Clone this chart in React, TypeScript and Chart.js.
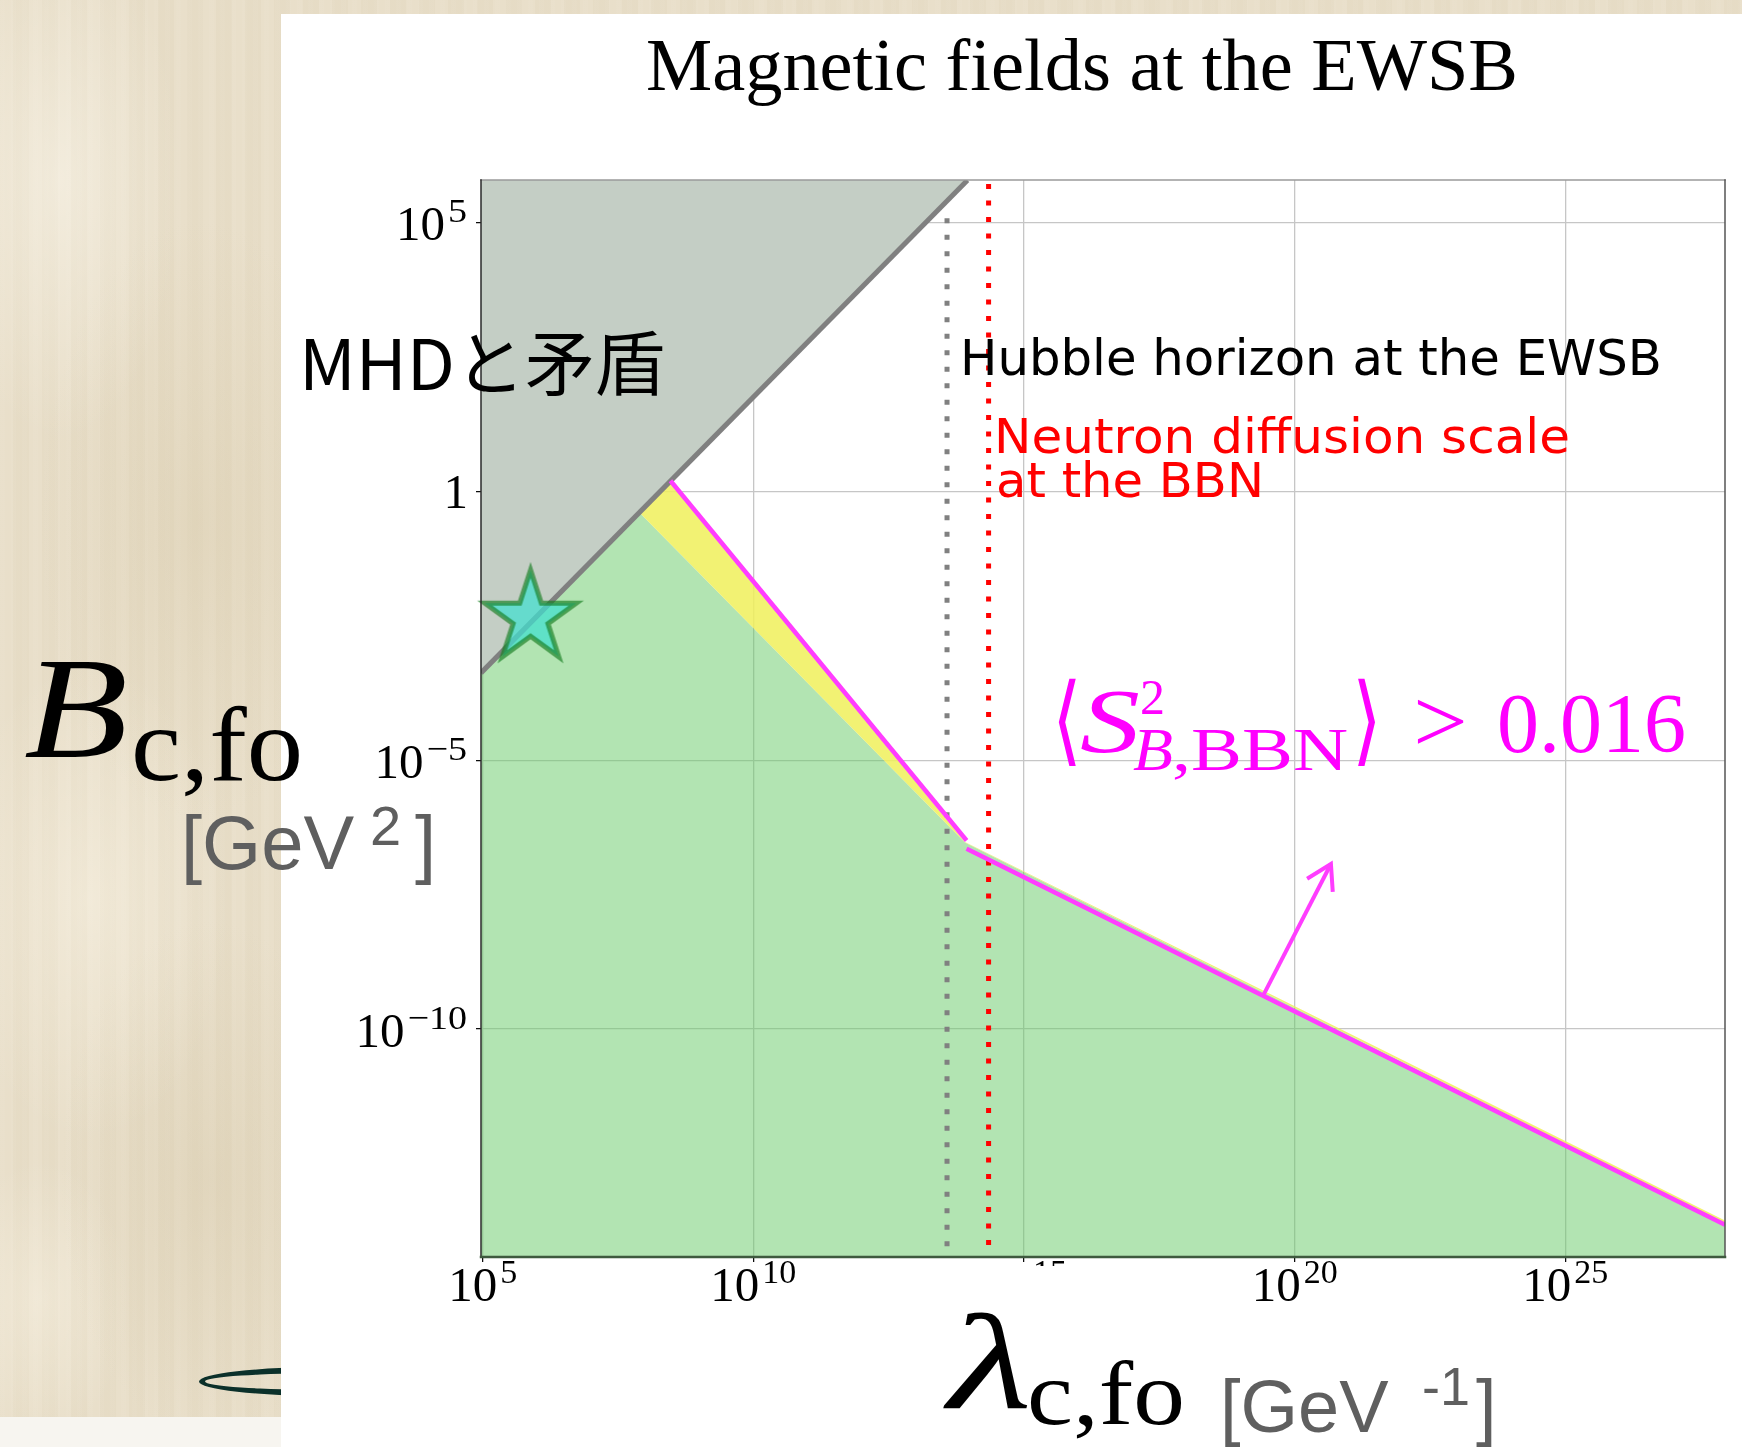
import React, { useEffect, useRef } from "react";
import { Chart, registerables } from "chart.js";

Chart.register(...registerables);

// ---- axis ranges & ticks ----
const X_MIN = 9.33e4;
const X_MAX = 8.91e27;
const Y_MIN = 5.75e-15;
const Y_MAX = 6.17e5;
const X_TICKS = [1e5, 1e10, 1e15, 1e20, 1e25];
const X_TICK_EXP = ["5", "10", "15", "20", "25"];
const Y_TICKS = [1e5, 1, 1e-5, 1e-10];
const Y_TICK_EXP = ["5", "", "−5", "−10"];

// ---- MHD inconsistent boundary (gray) ----
const MHD_LAMBDA = [9.33e4, 9.04e13];
const MHD_B = [4.2e-4, 6.11e5];
// ---- green region upper edge ----
const GREEN_LAMBDA = [9.33e4, 7.87e7, 8.13e13, 8.91e27];
const GREEN_B = [4.2e-4, 0.405, 2.95e-7, 2.4e-14];
// ---- yellow band upper edge ----
const YELLOW_LAMBDA = [7.87e7, 2.95e8, 8.13e13, 8.91e27];
const YELLOW_B = [0.405, 1.57, 3.02e-7, 2.75e-14];
// ---- magenta bound <S^2> > 0.016 ----
const BOUND1_LAMBDA = [2.95e8, 8.71e13];
const BOUND1_B = [1.57, 3.2e-7];
const BOUND2_LAMBDA = [8.71e13, 8.91e27];
const BOUND2_B = [2.25e-7, 2.29e-14];
// ---- arrow ----
const ARROW_LAMBDA = [2.69e19, 4.68e20];
const ARROW_B = [4.4e-10, 1.17e-7];
// ---- vertical scales (drawn top -> bottom) ----
const HUBBLE_LAMBDA = [3.79e13, 3.79e13];
const HUBBLE_B = [1.2e5, Y_MIN];
const NEUTRON_LAMBDA = [2.22e14, 2.22e14];
const NEUTRON_B = [Y_MAX, Y_MIN];
// ---- star ----
const STAR_LAMBDA = [7.67e5];
const STAR_B = [4.42e-3];

const W = 1742;
const H = 1447;

const pts = (xs: number[], ys: number[]) => xs.map((x, i) => ({ x, y: ys[i] }));

function drawText(
  ctx: CanvasRenderingContext2D,
  s: string,
  x: number,
  y: number,
  font: string,
  color: string,
  width?: number,
  sx?: number
) {
  ctx.save();
  ctx.font = font;
  ctx.fillStyle = color;
  ctx.textBaseline = "alphabetic";
  ctx.textAlign = "left";
  let k = 1;
  if (width) k = width / ctx.measureText(s).width;
  else if (sx) k = sx;
  ctx.translate(x, y);
  ctx.scale(k, 1);
  ctx.fillText(s, 0, 0);
  ctx.restore();
}

function makeStar(): HTMLCanvasElement {
  const c = document.createElement("canvas");
  c.width = 140;
  c.height = 140;
  const g = c.getContext("2d")!;
  g.beginPath();
  for (let i = 0; i < 10; i++) {
    const r = i % 2 === 0 ? 48 : 48 * 0.382;
    const a = -Math.PI / 2 + (i * Math.PI) / 5;
    g.lineTo(70 + r * Math.cos(a), 70 + r * Math.sin(a));
  }
  g.closePath();
  g.fillStyle = "rgba(64,224,208,0.72)";
  g.fill();
  g.lineWidth = 5;
  g.lineJoin = "miter";
  g.strokeStyle = "rgba(20,125,30,0.65)";
  g.stroke();
  return c;
}

const SERIF = '"Liberation Serif", "Times New Roman", serif';
const SANS = '"Liberation Sans", Arial, sans-serif';
const DEJAVU = '"DejaVu Sans", sans-serif';

const annotPlugin = {
  id: "annot",
  afterDatasetsDraw(chart: any) {
    const ctx: CanvasRenderingContext2D = chart.ctx;
    const a = chart.chartArea;
    // arrow head
    const meta = chart.getDatasetMeta(7);
    if (meta && meta.data.length === 2) {
      const p0 = meta.data[0];
      const p1 = meta.data[1];
      const ang = Math.atan2(p0.y - p1.y, p0.x - p1.x);
      const L = 28;
      const spread = (31 * Math.PI) / 180;
      ctx.save();
      ctx.strokeStyle = "#ff3dff";
      ctx.lineWidth = 4;
      ctx.lineCap = "butt";
      ctx.beginPath();
      ctx.moveTo(p1.x + L * Math.cos(ang + spread), p1.y + L * Math.sin(ang + spread));
      ctx.lineTo(p1.x, p1.y);
      ctx.lineTo(p1.x + L * Math.cos(ang - spread), p1.y + L * Math.sin(ang - spread));
      ctx.stroke();
      ctx.restore();
    }
    // spines
    ctx.save();
    ctx.lineCap = "square";
    ctx.strokeStyle = "#9a9a9a";
    ctx.lineWidth = 1.5;
    ctx.beginPath();
    ctx.moveTo(a.left, a.top);
    ctx.lineTo(a.right, a.top);
    ctx.stroke();
    ctx.strokeStyle = "#555";
    ctx.beginPath();
    ctx.moveTo(a.right, a.top);
    ctx.lineTo(a.right, a.bottom);
    ctx.stroke();
    ctx.strokeStyle = "#2a2a2a";
    ctx.beginPath();
    ctx.moveTo(a.left, a.top);
    ctx.lineTo(a.left, a.bottom);
    ctx.stroke();
    ctx.strokeStyle = "#3e5a3e";
    ctx.lineWidth = 2.5;
    ctx.beginPath();
    ctx.moveTo(a.left, a.bottom);
    ctx.lineTo(a.right, a.bottom);
    ctx.stroke();
    ctx.restore();
  },
  afterDraw(chart: any) {
    const ctx: CanvasRenderingContext2D = chart.ctx;
    const xs = chart.scales.x;
    const ys = chart.scales.y;
    const MAIN = `49px ${SERIF}`;
    const SUP = `34px ${SERIF}`;

    // x tick labels
    X_TICKS.forEach((v, i) => {
      const px = xs.getPixelForValue(v);
      ctx.save();
      ctx.font = MAIN;
      const w10 = ctx.measureText("10").width;
      ctx.font = SUP;
      const we = ctx.measureText(X_TICK_EXP[i]).width;
      const total = w10 + 3 + we;
      const x0 = px - total / 2;
      if (v === 1e15) {
        ctx.beginPath();
        ctx.rect(0, 0, W, 1266);
        ctx.clip();
      }
      drawText(ctx, "10", x0, 1301, MAIN, "#000");
      drawText(ctx, X_TICK_EXP[i], x0 + w10 + 3, 1283, SUP, "#000");
      ctx.restore();
    });

    // y tick labels
    Y_TICKS.forEach((v, i) => {
      const py = ys.getPixelForValue(v);
      const right = 467;
      ctx.save();
      if (Y_TICK_EXP[i] === "") {
        ctx.font = MAIN;
        const w1 = ctx.measureText("1").width;
        drawText(ctx, "1", right + 1 - w1, py + 17, MAIN, "#000");
      } else {
        ctx.font = SUP;
        const we = ctx.measureText(Y_TICK_EXP[i]).width * 1.12;
        ctx.font = MAIN;
        const w10 = ctx.measureText("10").width;
        drawText(ctx, Y_TICK_EXP[i], right - we, py, SUP, "#000", we);
        drawText(ctx, "10", right - we - 3 - w10, py + 18, MAIN, "#000");
      }
      ctx.restore();
    });

    // title
    drawText(ctx, "Magnetic fields at the EWSB", 646, 90, `74px ${SERIF}`, "#000", 872);

    // region annotations
    drawText(ctx, "MHDと矛盾", 299, 390, `70px "Noto Sans CJK JP", ${DEJAVU}`, "#000");
    drawText(ctx, "Hubble horizon at the EWSB", 960, 375, `49px ${DEJAVU}`, "#000", 702);
    drawText(ctx, "Neutron diffusion scale", 994, 453, `48px ${DEJAVU}`, "#ff0000", 576);
    drawText(ctx, "at the BBN", 996, 497, `48px ${DEJAVU}`, "#ff0000", 268);

    // magenta condition  <S^2_{B,BBN}> > 0.016
    const MG = "#ff00ff";
    drawText(ctx, "⟨", 1052, 753, `98px ${DEJAVU}`, MG, undefined, 0.78);
    drawText(ctx, "S", 1080, 752, `italic 90px ${SERIF}`, MG, 60);
    drawText(ctx, "2", 1140, 714, `50px ${SERIF}`, MG);
    drawText(ctx, "B", 1133, 770, `italic 62px ${SERIF}`, MG, 40);
    drawText(ctx, ",BBN", 1172, 770, `62px ${SERIF}`, MG, 176);
    drawText(ctx, "⟩", 1352, 753, `98px ${DEJAVU}`, MG, undefined, 0.78);
    drawText(ctx, ">", 1413, 752, `90px ${SERIF}`, MG, undefined, 1.08);
    drawText(ctx, "0.016", 1497, 752, `84px ${SERIF}`, MG);

    // y-axis label
    drawText(ctx, "B", 24, 757, `italic 143px ${SERIF}`, "#000", 104);
    drawText(ctx, "c,fo", 131, 780, `105px ${SERIF}`, "#000", 172);
    drawText(ctx, "[GeV", 181, 869, `76px ${SANS}`, "#5f5f5f");
    drawText(ctx, "2", 370, 845, `56px ${SANS}`, "#5f5f5f");
    drawText(ctx, "]", 415, 869, `76px ${SANS}`, "#5f5f5f");

    // x-axis label
    drawText(ctx, "λ", 948, 1408, `italic 136px ${SERIF}`, "#000", 84);
    drawText(ctx, "c,fo", 1027, 1424, `90px ${SERIF}`, "#000", 158);
    drawText(ctx, "[GeV", 1220, 1432, `74px ${SANS}`, "#5f5f5f");
    drawText(ctx, "-1", 1422, 1405, `54px ${SANS}`, "#5f5f5f");
    drawText(ctx, "]", 1476, 1432, `74px ${SANS}`, "#5f5f5f");
  },
};

export default function App() {
  const ref = useRef<HTMLCanvasElement | null>(null);

  useEffect(() => {
    if (!ref.current) return;
    const star = makeStar();
    const noPts = { pointRadius: 0, pointHoverRadius: 0, tension: 0 };
    const chart = new Chart(ref.current, {
      type: "line",
      data: {
        datasets: [
          {
            label: "allowed",
            data: pts(GREEN_LAMBDA, GREEN_B),
            borderColor: "transparent",
            borderWidth: 0,
            backgroundColor: "rgba(102,201,102,0.5)",
            fill: "start",
            order: 9,
            clip: 0,
            ...noPts,
          },
          {
            label: "band",
            data: pts(YELLOW_LAMBDA, YELLOW_B),
            borderColor: "transparent",
            borderWidth: 0,
            backgroundColor: "rgba(240,240,90,0.85)",
            fill: { target: 0 },
            order: 8,
            clip: 0,
            ...noPts,
          },
          {
            label: "MHD",
            data: pts(MHD_LAMBDA, MHD_B),
            borderColor: "#808080",
            borderWidth: 5,
            backgroundColor: "rgb(196,206,197)",
            fill: "end",
            order: 7,
            clip: 0,
            ...noPts,
          },
          {
            label: "Hubble horizon at the EWSB",
            data: pts(HUBBLE_LAMBDA, HUBBLE_B),
            borderColor: "#808080",
            borderWidth: 5,
            borderDash: [5, 11.5],
            borderCapStyle: "butt",
            fill: false,
            order: 6,
            clip: 0,
            ...noPts,
          },
          {
            label: "Neutron diffusion scale at the BBN",
            data: pts(NEUTRON_LAMBDA, NEUTRON_B),
            borderColor: "#ff0000",
            borderWidth: 5,
            borderDash: [5, 11.5],
            borderDashOffset: -4,
            borderCapStyle: "butt",
            fill: false,
            order: 5,
            clip: 0,
            ...noPts,
          },
          {
            label: "bound1",
            data: pts(BOUND1_LAMBDA, BOUND1_B),
            borderColor: "#ff3dff",
            borderWidth: 4.5,
            fill: false,
            order: 4,
            clip: 0,
            ...noPts,
          },
          {
            label: "bound2",
            data: pts(BOUND2_LAMBDA, BOUND2_B),
            borderColor: "#ff3dff",
            borderWidth: 4.5,
            fill: false,
            order: 3,
            clip: 0,
            ...noPts,
          },
          {
            label: "arrow",
            data: pts(ARROW_LAMBDA, ARROW_B),
            borderColor: "#ff3dff",
            borderWidth: 4,
            fill: false,
            order: 2,
            clip: 0,
            ...noPts,
          },
          {
            label: "star",
            data: pts(STAR_LAMBDA, STAR_B),
            showLine: false,
            pointStyle: star as any,
            pointRadius: 6,
            pointHoverRadius: 6,
            order: 1,
            clip: false as any,
          },
        ] as any,
      },
      options: {
        responsive: false,
        animation: false,
        devicePixelRatio: 1,
        events: [],
        layout: { padding: { left: 476, top: 180, right: 17, bottom: 185 } },
        plugins: {
          legend: { display: false },
          tooltip: { enabled: false },
          title: { display: false },
        },
        scales: {
          x: {
            type: "logarithmic",
            min: X_MIN,
            max: X_MAX,
            afterBuildTicks: (s: any) => {
              s.ticks = X_TICKS.map((v) => ({ value: v }));
            },
            afterFit: (s: any) => {
              s.height = 5;
            },
            ticks: { display: false },
            grid: {
              color: "#c6c6c6",
              lineWidth: 1.3,
              drawTicks: true,
              tickLength: 5,
              tickColor: "#000",
              tickWidth: 1.2,
            },
            border: { display: false },
          },
          y: {
            type: "logarithmic",
            min: Y_MIN,
            max: Y_MAX,
            afterBuildTicks: (s: any) => {
              s.ticks = Y_TICKS.map((v) => ({ value: v }));
            },
            afterFit: (s: any) => {
              s.width = 5;
            },
            ticks: { display: false },
            grid: {
              color: "#c6c6c6",
              lineWidth: 1.3,
              drawTicks: true,
              tickLength: 5,
              tickColor: "#000",
              tickWidth: 1.2,
            },
            border: { display: false },
          },
        },
      } as any,
      plugins: [annotPlugin],
    });
    return () => chart.destroy();
  }, []);

  const parchment =
    "radial-gradient(ellipse 120px 260px at 60px 180px, rgba(255,252,244,0.45), rgba(255,252,244,0) 100%), " +
    "radial-gradient(ellipse 160px 300px at 200px 520px, rgba(210,195,160,0.30), rgba(210,195,160,0) 100%), " +
    "radial-gradient(ellipse 140px 240px at 90px 900px, rgba(255,250,238,0.40), rgba(255,250,238,0) 100%), " +
    "radial-gradient(ellipse 150px 260px at 210px 1180px, rgba(205,190,155,0.28), rgba(205,190,155,0) 100%), " +
    "radial-gradient(ellipse 90px 140px at 40px 1300px, rgba(255,250,238,0.35), rgba(255,250,238,0) 100%), " +
    "repeating-linear-gradient(90deg, rgba(255,255,255,0.035) 0px, rgba(255,255,255,0.035) 13px, rgba(140,120,80,0.025) 13px, rgba(140,120,80,0.025) 29px), " +
    "repeating-linear-gradient(90deg, rgba(255,255,255,0.03) 0px, rgba(255,255,255,0.03) 5px, rgba(0,0,0,0) 5px, rgba(0,0,0,0) 11px), " +
    "#e8dec8";

  return (
    <div style={{ position: "fixed", left: 0, top: 0, width: W, height: H, overflow: "hidden", background: parchment }}>
      <div
        style={{
          position: "absolute",
          left: 199,
          top: 1367,
          width: 260,
          height: 29,
          border: "6px solid #0b302a",
          borderRadius: "50%",
          boxSizing: "border-box",
        }}
      />
      <div style={{ position: "absolute", left: 0, top: 1417, width: W, height: H - 1417, background: "#f7f5f0" }} />
      <div style={{ position: "absolute", left: 281, top: 14, width: W - 281, height: H - 14, background: "#ffffff" }} />
      <canvas
        ref={ref}
        width={W}
        height={H}
        style={{ position: "absolute", left: 0, top: 0, width: W, height: H }}
      />
    </div>
  );
}
